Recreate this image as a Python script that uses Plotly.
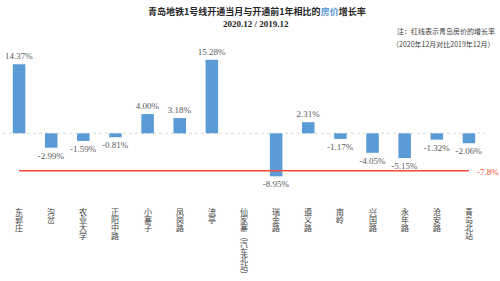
import plotly.graph_objects as go

categories = ["东郭庄", "沟岔", "农业大学", "正阳中路", "小寨子", "凤岗路", "流亭",
              "仙家寨（汽车北站）", "瑞金路", "遵义路", "南岭", "兴国路", "永年路",
              "沧安路", "青岛北站"]
growth = [14.37, -2.99, -1.59, -0.81, 4.00, 3.18, 15.28, None, -8.95, 2.31,
          -1.17, -4.05, -5.15, -1.32, -2.06]
city_growth = -7.8

title_main = "青岛地铁1号线开通当月与开通前1年相比的<span style='color:#5B9BD5'>房价</span>增长率"
title_sub = "2020.12 / 2019.12"
note_1 = "注：红线表示青岛房价的增长率"
note_2 = "（2020年12月对比2019年12月）"

W, H = 500, 281
ML, MR, MT, MB = 3, 15, 54, 90
PW, PH = W - ML - MR, H - MT - MB

CJK = "Noto Sans CJK SC"
SERIF = "Liberation Serif"


def px_x(px):
    return (px - ML) / PW


def px_y(py):
    return (H - MB - py) / PH


def vertical(s):
    return s.replace("（", "︵").replace("）", "︶")


fig = go.Figure()
fig.add_trace(go.Bar(
    x=categories, y=growth, width=0.39, marker_color="#5B9BD5",
    marker_line_width=0,
    text=[f"{v:.2f}%" if v is not None else "" for v in growth],
    textposition="outside", constraintext="none", cliponaxis=False,
    textfont=dict(family=SERIF, size=9, color="#595959"),
    hoverinfo="skip",
))
fig.add_trace(go.Scatter(
    x=[categories[0], categories[-1]], y=[city_growth, city_growth],
    mode="lines", line=dict(color="#FF4B33", width=1.5), hoverinfo="skip",
))

# zero line (dotted)
fig.add_shape(type="line", xref="paper", yref="y", x0=0, x1=1, y0=0, y1=0,
              line=dict(color="#DADADA", width=1, dash="dot"), layer="below")

ann = []
ann.append(dict(x=categories[-1], y=city_growth, xref="x", yref="y",
                text=f"{city_growth}%", showarrow=False, xanchor="left",
                xshift=6, yshift=-1,
                font=dict(family=SERIF, size=9, color="#FF4B33")))

# vertical category labels (one glyph per line, stacked top-down)
for cat in categories:
    for j, ch in enumerate(vertical(cat)):
        ann.append(dict(x=cat, y=0, xref="x", yref="paper", text=ch,
                        showarrow=False, yanchor="middle", xanchor="center",
                        yshift=-(20.5 + j * 7.9),
                        font=dict(family=CJK, size=8, color="#404040")))

ann.append(dict(x=px_x(257), y=px_y(11), xref="paper", yref="paper",
                text=f"<b>{title_main}</b>", showarrow=False,
                xanchor="center", yanchor="middle",
                font=dict(family=CJK, size=9, color="#262626")))
ann.append(dict(x=px_x(256), y=px_y(23.5), xref="paper", yref="paper",
                text=f"<b>{title_sub}</b>", showarrow=False,
                xanchor="center", yanchor="middle",
                font=dict(family=SERIF, size=9, color="#262626")))
ann.append(dict(x=px_x(395), y=px_y(31), xref="paper", yref="paper",
                text=note_1, showarrow=False, xanchor="left", yanchor="middle",
                font=dict(family=CJK, size=7, color="#404040")))
ann.append(dict(x=px_x(443), y=px_y(44), xref="paper", yref="paper",
                text=note_2, showarrow=False, xanchor="center", yanchor="middle",
                font=dict(family=CJK, size=7, color="#404040")))

fig.update_layout(
    width=W, height=H,
    margin=dict(l=ML, r=MR, t=MT, b=MB, pad=0),
    paper_bgcolor="white", plot_bgcolor="white",
    showlegend=False,
    xaxis=dict(type="category", showticklabels=False, showgrid=False,
               zeroline=False, showline=False, ticks="",
               range=[-0.5, len(categories) - 0.5]),
    yaxis=dict(range=[-12, 16.5], showticklabels=False, showgrid=False,
               zeroline=False, showline=False, ticks=""),
    annotations=ann,
    bargap=0.6,
)

fig.write_html("out.html")
